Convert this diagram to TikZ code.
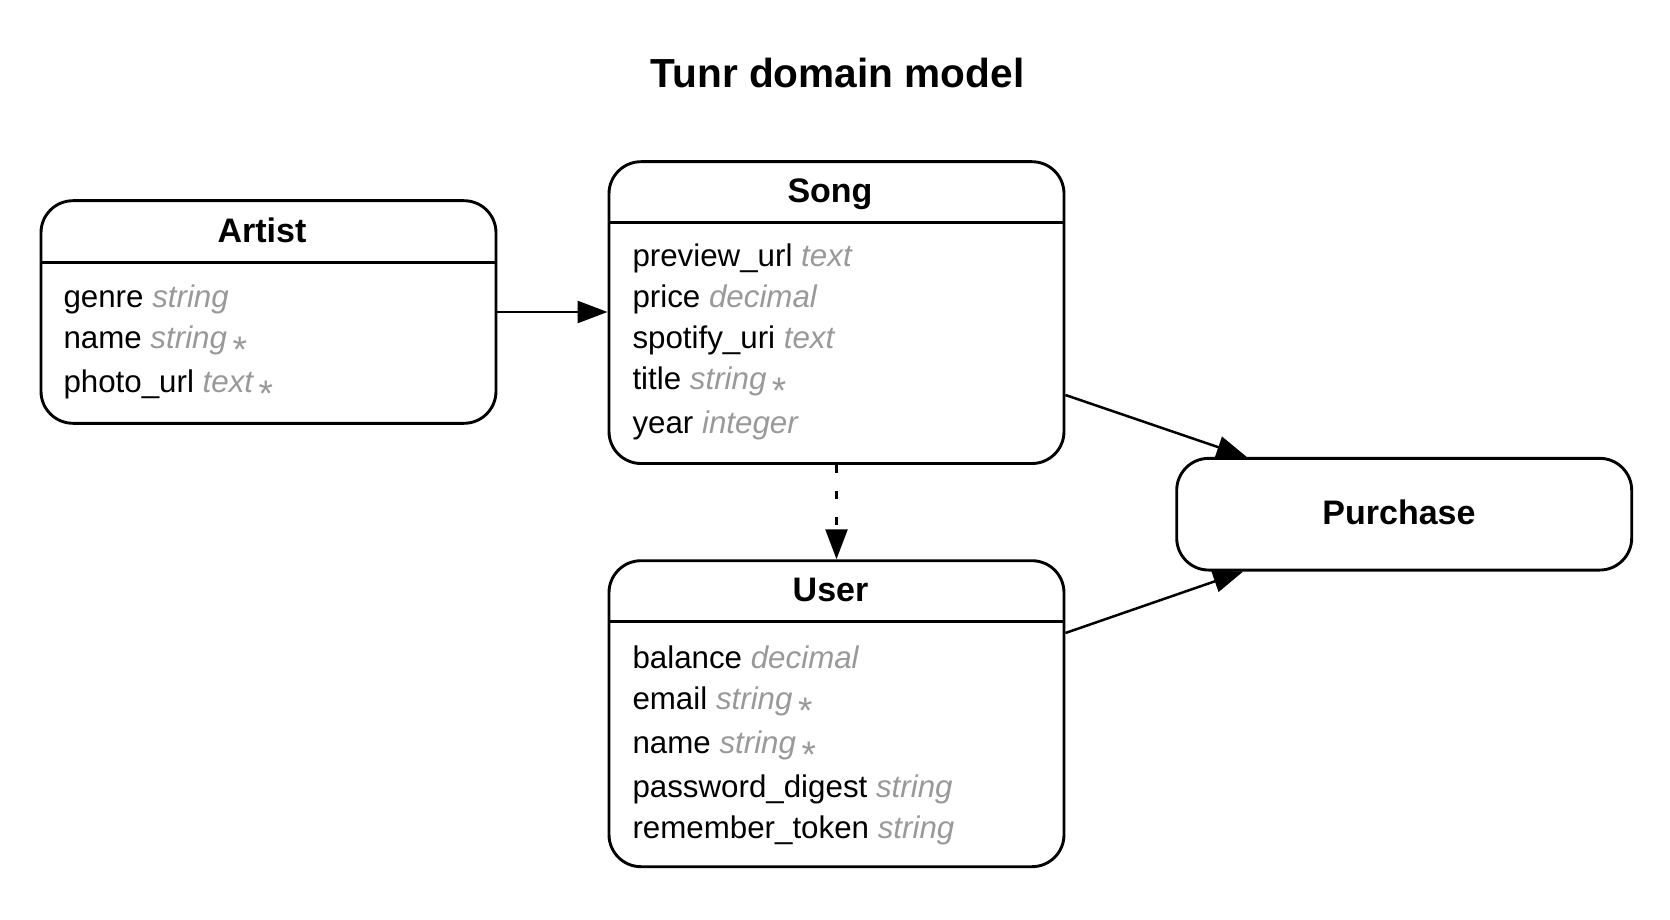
\documentclass[tikz,border=0pt]{standalone}
\usepackage{fontspec}
\setmainfont{Liberation Sans}
\usetikzlibrary{arrows.meta}
\definecolor{typegray}{HTML}{999999}
\newcommand{\attrtype}[1]{{\color{typegray}\itshape #1}}
\newcommand{\reqmark}{\hspace{5.5pt}\raisebox{-14pt}{\color{typegray}\fontsize{37}{37}\selectfont *}}
\begin{document}
\begin{tikzpicture}[x=1pt,y=-1pt,
  entity/.style={draw, line width=2.9pt, rounded corners=32pt, minimum width=455pt, inner sep=0pt},
  sepline/.style={line width=2.9pt},
  attr/.style={anchor=base west, inner sep=0pt, font=\fontsize{31.3}{31.3}\selectfont},
  hdr/.style={anchor=base, inner sep=0pt, font=\bfseries\fontsize{34}{34}\selectfont},
  conn/.style={line width=2.5pt, -{Triangle[length=30pt 0 0,width=22pt 0]}}]
\useasboundingbox (0,0) rectangle (1670,920);

\node[anchor=base, inner sep=0pt, font=\bfseries\fontsize{40.6}{40.6}\selectfont] (title) at (837.5,87.5) {Tunr domain model};

% Artist
\node[entity, minimum height=222.6pt] (artist) at (268.5,312) {};
\draw[sepline] ([shift={(0,63.3)}]artist.north west) -- ([shift={(0,63.3)}]artist.north east);
\node[hdr] (artisthdr) at (262,243) {Artist};
\node[attr] (a1) at (63.3,307) {genre \attrtype{string}};
\node[attr] (a2) at (63.3,348.5) {name \attrtype{string}\reqmark};
\node[attr] (a3) at (63.3,392) {photo\_url \attrtype{text}\reqmark};

% Song
\node[entity, minimum height=301.8pt] (song) at (836.5,312.6) {};
\draw[sepline] ([shift={(0,62.3)}]song.north west) -- ([shift={(0,62.3)}]song.north east);
\node[hdr] (songhdr) at (830,202.5) {Song};
\node[attr] (s1) at (632.3,266.5) {preview\_url \attrtype{text}};
\node[attr] (s2) at (632.3,307) {price \attrtype{decimal}};
\node[attr] (s3) at (632.3,348.5) {spotify\_uri \attrtype{text}};
\node[attr] (s4) at (632.3,389) {title \attrtype{string}\reqmark};
\node[attr] (s5) at (632.3,433.5) {year \attrtype{integer}};

% User
\node[entity, minimum height=306pt] (user) at (836.5,713.7) {};
\draw[sepline] ([shift={(0,62.3)}]user.north west) -- ([shift={(0,62.3)}]user.north east);
\node[hdr] (userhdr) at (830.5,601.5) {User};
\node[attr] (u1) at (632.3,668.5) {balance \attrtype{decimal}};
\node[attr] (u2) at (632.3,709) {email \attrtype{string}\reqmark};
\node[attr] (u3) at (632.3,753.5) {name \attrtype{string}\reqmark};
\node[attr] (u4) at (632.3,797) {password\_digest \attrtype{string}};
\node[attr] (u5) at (632.3,838.5) {remember\_token \attrtype{string}};

% Purchase
\node[entity, minimum height=111.7pt] (purchase) at (1404.2,514.2) {};
\node[hdr] (purchasehdr) at (1399,524.5) {Purchase};

% Connectors
\draw[conn] (artist.east) -- (artist.east -| song.west);
\draw[conn, dash pattern=on 8pt off 18pt] (song.south) -- (user.north);
\coordinate (sp1) at ([shift={(0,82.4)}]song.east);
\coordinate (sp2) at ([shift={(-157.5,0)}]purchase.north);
\draw[conn] (sp1) -- (sp2);
\coordinate (up1) at ([shift={(0,-80.7)}]user.east);
\coordinate (up2) at ([shift={(-161,0)}]purchase.south);
\draw[conn] (up1) -- (up2);
\end{tikzpicture}
\end{document}
